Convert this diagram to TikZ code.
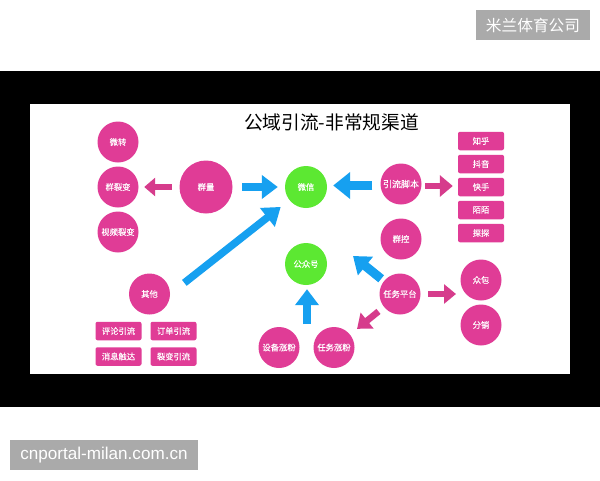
\documentclass[tikz,border=0pt]{standalone}
\usepackage{fontspec}
\setmainfont{Noto Sans CJK SC}
\newfontfamily\labelfont[FakeBold=0.2]{Noto Sans CJK SC}
\newfontfamily\sitefont{Liberation Sans}
\usetikzlibrary{arrows.meta}
\definecolor{pinkc}{RGB}{224,60,150}
\definecolor{pinka}{RGB}{214,60,140}
\definecolor{greenc}{RGB}{92,232,50}
\definecolor{bluec}{RGB}{22,160,240}
\definecolor{wm}{RGB}{170,170,170}
\tikzset{
  lab/.style={text=white,font=\labelfont\fontsize{8.3}{10}\selectfont,inner sep=0pt},
  pcirc/.style={lab,circle,fill=pinkc,minimum size=41pt},
  bigcirc/.style={lab,circle,fill=pinkc,minimum size=53pt},
  gcirc/.style={lab,circle,fill=greenc,minimum size=42pt},
  pbox/.style={lab,rectangle,rounded corners=2pt,fill=pinkc,minimum width=46pt,minimum height=18.5pt},
  barrow/.style={bluec,line width=8pt,-{Triangle[length=16pt,width=23pt]}},
  parrow/.style={pinka,line width=6.5pt,-{Triangle[length=12.5pt,width=20pt]}},
}
\begin{document}
\begin{tikzpicture}[x=1pt,y=-1pt]
\useasboundingbox (0,0) rectangle (600,480);
\fill[white] (0,0) rectangle (600,480);
\fill[black] (0,71) rectangle (600,407);
\fill[white] (30,104) rectangle (570,374);
\node[fill=wm,text=white,minimum width=114pt,minimum height=30pt,inner sep=0pt,font=\fontsize{15.7}{18}\selectfont] (brand) at (533,25) {米兰体育公司};
\node[fill=wm,text=white,minimum width=188pt,minimum height=30pt,inner sep=0pt,font=\sitefont\fontsize{17.1}{19}\selectfont] (site) at (104,455) {cnportal-milan.com.cn};
\node[inner sep=0pt,text=black,font=\fontsize{18.7}{22}\selectfont] (title) at (331.5,122) {公域引流-非常规渠道};

\node[pcirc] (wz) at (118,142) {微转};
\node[pcirc] (qlb) at (118,187) {群裂变};
\node[pcirc] (splb) at (118,232) {视频裂变};
\node[bigcirc] (ql) at (206,187) {群量};
\node[gcirc] (wx) at (306,187) {微信};
\node[pcirc,font=\labelfont\fontsize{9}{10}\selectfont] (yljb) at (401,184) {引流脚本};
\node[pcirc] (qk) at (401,239) {群控};
\node[pbox] (zh) at (481,141) {知乎};
\node[pbox] (dy) at (481,164) {抖音};
\node[pbox] (ks) at (481,187) {快手};
\node[pbox] (mm) at (481,210) {陌陌};
\node[pbox] (tt) at (481,233) {探探};
\node[pcirc] (qt) at (149.5,294) {其他};
\node[pbox] (pl) at (118.5,331) {评论引流};
\node[pbox] (dd) at (173.5,331) {订单引流};
\node[pbox] (xx) at (118.5,356.5) {消息触达};
\node[pbox] (lb) at (173.5,356.5) {裂变引流};
\node[pcirc] (sb) at (279,347.5) {设备涨粉};
\node[pcirc] (rw) at (334,347.5) {任务涨粉};
\node[gcirc] (gz) at (306,264) {公众号};
\node[pcirc] (pt) at (400,294) {任务平台};
\node[pcirc] (zb) at (481,280) {众包};
\node[pcirc] (fx) at (481,325) {分销};

\coordinate (gzfrom) at (307,324);
\coordinate (gzto) at (353,256);
\coordinate (zbto) at (456,294);

\draw[barrow,shorten <=9.5pt,shorten >=7pt] (ql) -- (wx);
\draw[parrow,line width=6pt,-{Triangle[length=11pt,width=18pt]},shorten <=7.5pt,shorten >=5.5pt] (ql) -- (qlb);
\draw[barrow,line width=9pt,-{Triangle[length=17pt,width=26pt]},shorten <=8pt,shorten >=6pt] ([yshift=-1.5pt]yljb.west) -- ([yshift=1.5pt]wx.east);
\draw[parrow,-{Triangle[length=13pt,width=21pt]},shorten <=3.5pt,shorten >=5pt] ([yshift=-2pt]yljb.east) -- ([yshift=1pt]ks.west);
\draw[barrow,line width=7.5pt,-{Triangle[length=17pt,width=23pt]},shorten <=18pt,shorten >=11pt] (qt.east) -- (wx);
\draw[barrow,shorten >=4pt] (gzfrom) -- ([xshift=1pt]gz.south);
\draw[barrow,line width=9pt,-{Triangle[length=16pt,width=23pt]},shorten <=3.5pt] (pt) -- (gzto);
\draw[parrow,-{Triangle[length=13pt,width=20pt]},shorten <=7pt,shorten >=9pt] (pt) -- (rw);
\draw[parrow,-{Triangle[length=12pt,width=19pt]},shorten <=7.5pt] (pt) -- (zbto);
\end{tikzpicture}
\end{document}
